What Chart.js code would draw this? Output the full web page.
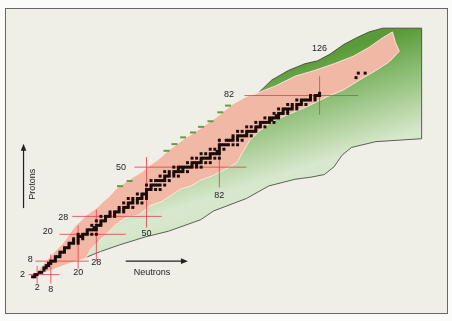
<!DOCTYPE html>
<html>
<head>
<meta charset="utf-8">
<script src="https://cdn.jsdelivr.net/npm/chart.js@4.4.0/dist/chart.umd.min.js"></script>
<style>
  body { margin: 0; background: #fbfbf9; }
  #wrap { position: relative; width: 452px; height: 321px; }
  #frame { position: absolute; left: 5px; top: 8px; width: 441px; height: 304px; border: 1px solid #666; background: #efeee7; }
  #chart { position: absolute; left: 0; top: 0; }
</style>
</head>
<body>
<div id="wrap">
  <div id="frame"></div>
  <canvas id="chart" width="452" height="321"></canvas>
</div>
<script>
// outline of the green region (predicted nuclei), neutron / proton numbers
var greenN = [22.5, 29.8, 38.3, 49.4, 59.7, 73.8, 79.4, 93.9, 103.7, 115.3, 122.1, 128.1, 132.4, 135.8, 140.0, 150.7, 170.8,
              170.8, 153.7, 147.7, 142.2, 136.6, 130.6, 125.1, 119.5, 112.3, 105.0, 99.4, 73.8, 48.2, 26.8, 22.5];
var greenZ = [9.3, 12.3, 15.3, 18.8, 21.4, 26.5, 30.4, 36.0, 41.6, 44.6, 45.5, 46.7, 50.2, 55.3, 58.8, 61.4, 62.7,
              112.1, 112.1, 110.4, 107.8, 104.8, 100.5, 97.5, 96.2, 93.2, 88.9, 83.4, 57.5, 36.0, 18.8, 9.3];

// outline of the known nuclei band (upper edge, then lower edge back)
var knownN = [0.3, 4.1, 6.7, 9.7, 12.7, 15.3, 18.2, 21.2, 23.8, 28.1, 31.1, 34.1, 36.6, 40.9, 43.9, 48.2, 51.2, 55.4, 59.7,
              66.5, 73.8, 81.1, 87.9, 93.9, 98.2, 106.7, 115.2, 123.8, 132.4, 140.9, 147.7, 153.7, 158.0, 159.3, 161.0,
              157.4, 155.9, 150.7, 143.5, 136.6, 129.4, 125.1, 119.5, 111.0, 105.0, 99.4, 95.2, 92.2, 89.6, 83.6, 79.4,
              73.8, 69.5, 65.3, 56.7, 51.2, 46.9, 40.9, 36.6, 34.1, 31.1, 28.1, 25.5, 23.4, 17.0, 11.0, 5.4, 1.2, 0.3];
var knownZ = [1.1, 5.9, 8.9, 12.3, 15.3, 18.8, 23.1, 26.1, 28.7, 31.7, 34.7, 37.3, 40.3, 43.3, 45.4, 48.0, 50.6, 53.6, 57.5,
              62.6, 67.4, 72.6, 78.2, 81.6, 82.9, 86.3, 90.6, 93.2, 96.2, 99.6, 103.5, 107.8, 110.4, 105.7, 101.8,
              97.9, 96.6, 93.2, 88.9, 84.6, 81.5, 79.3, 76.6, 73.0, 70.3, 66.0, 61.8, 56.6, 51.9, 48.5, 46.3,
              44.2, 41.6, 40.3, 34.7, 32.6, 28.7, 27.4, 24.4, 21.8, 18.8, 15.8, 13.2, 9.3, 7.2, 5.0, 2.9, 0.7, 1.1];

// stable nuclei: neutron numbers for Z = 1 .. 83
var stableN = [
  [0, 1], [1, 2], [3, 4], [5], [5, 6], [6, 7], [7, 8], [8, 9, 10], [10], [10, 11, 12],
  [12], [12, 13, 14], [14], [14, 15, 16], [16], [16, 17, 18, 20], [18, 20], [18, 20, 22], [20, 21, 22], [20, 22, 23, 24, 26, 28],
  [24], [24, 25, 26, 27, 28], [27, 28], [26, 28, 29, 30], [30], [28, 30, 31, 32], [32], [30, 32, 33, 34, 36], [34, 36], [34, 36, 37, 38, 40],
  [38, 40], [38, 40, 41, 42, 44], [42], [40, 42, 43, 44, 46, 48], [44, 46], [42, 44, 46, 47, 48, 50], [48, 50], [46, 48, 49, 50], [50], [50, 51, 52, 54, 56],
  [52], [50, 52, 53, 54, 55, 56, 58], [], [52, 54, 55, 56, 57, 58, 60], [58], [56, 58, 59, 60, 62, 64], [60, 62], [58, 60, 62, 63, 64, 65, 66, 68], [64, 66], [62, 64, 65, 66, 67, 68, 69, 70, 72, 74],
  [70, 72], [68, 70, 71, 72, 73, 74, 76, 78], [74], [70, 72, 74, 75, 76, 77, 78, 80, 82], [78], [74, 76, 78, 79, 80, 81, 82], [81, 82], [78, 80, 82, 84], [82], [82, 83, 84, 85, 86, 88, 90],
  [], [82, 85, 86, 87, 88, 90, 92], [88, 90], [88, 90, 91, 92, 93, 94, 96], [94], [90, 92, 94, 95, 96, 97, 98], [98], [94, 96, 98, 99, 100, 102], [100], [98, 100, 101, 102, 103, 104, 106],
  [104, 105], [102, 104, 105, 106, 107, 108], [107, 108], [106, 108, 109, 110, 112], [110, 112], [108, 110, 111, 112, 113, 114, 116], [114, 116], [112, 114, 116, 117, 118, 120], [118], [116, 118, 119, 120, 121, 122, 124],
  [122, 124], [122, 124, 125, 126], [126]
];
var heavyN = [142, 143, 146];
var heavyZ = [90, 92, 92];

// small green marks beyond the proton drip side
var dripN = [38.4, 42.6, 58.8, 62.3, 66.1, 70.4, 74.0, 78.1, 82.4, 85.8];
var dripZ = [41.5, 43.8, 57.3, 60.3, 63.3, 65.5, 68.0, 70.5, 74.5, 77.5];

// magic numbers and the span of their guide lines
var magicN = [2, 8, 20, 28, 50, 82, 126];
var nLineFrom = [-2, -2, 4.6, 8, 23, 41, 73.4];
var nLineTo = [5.9, 11, 24, 31, 54.5, 63, 90.6];
var magicZ = [2, 8, 20, 28, 50, 82];
var zLineFrom = [-1.8, 1.2, 11.8, 17.4, 44.7, 93];
var zLineTo = [11.8, 24.7, 40.9, 56.7, 93.9, 143];

// where the magic number labels sit
var nLabelZ = [-4.0, -4.5, 2.9, 7.2, 20.5, 37.3, 103.1];
var zLabelN = [-4.4, -1.0, 6.7, 13.5, 38.8, 86.2];
var zLabelZ = [2.0, 8.6, 21.3, 27.4, 49.9, 82.4];

function pts(xs, ys) {
  return xs.map(function(v, i) { return { x: v, y: ys[i] }; });
}

var stablePts = [];
stableN.forEach(function(ns, i) {
  ns.forEach(function(n) { stablePts.push({ x: n, y: i + 1 }); });
});
stablePts = stablePts.concat(pts(heavyN, heavyZ));

function greenFill(c) {
  var chart = c.chart;
  if (!chart.chartArea) return '#a9cf94';
  var sx = chart.scales.x, sy = chart.scales.y;
  var g = chart.ctx.createLinearGradient(sx.getPixelForValue(116.5), sy.getPixelForValue(96.2),
                                         sx.getPixelForValue(137), sy.getPixelForValue(30.8));
  g.addColorStop(0, '#5a9a38');
  g.addColorStop(0.19, '#7db463');
  g.addColorStop(0.47, '#b3d3a0');
  g.addColorStop(0.66, '#d8e8ce');
  g.addColorStop(1, '#cde2c1');
  return g;
}

var datasets = [
  { label: 'stable', data: stablePts, showLine: false, order: 0,
    pointStyle: 'rect', pointRadius: 2.1, pointBackgroundColor: '#1a0d0a', pointBorderWidth: 0 },
  { label: 'drip', data: pts(dripN, dripZ), showLine: false, order: 1,
    pointStyle: 'line', pointRadius: 3, pointBorderWidth: 2, pointBorderColor: '#5f9f3f' },
  { label: 'known', data: pts(knownN, knownZ), fill: 'shape', order: 3, pointRadius: 0,
    backgroundColor: '#f0b8a5', borderColor: 'rgba(255,236,226,0.9)', borderWidth: 1 },
  { label: 'predicted', data: pts(greenN, greenZ), fill: 'shape', order: 4, pointRadius: 0,
    backgroundColor: greenFill, borderColor: '#3a3a36', borderWidth: 0.8 }
];
magicN.forEach(function(n, i) {
  datasets.push({ label: 'N' + n, data: [{ x: n, y: nLineFrom[i] }, { x: n, y: nLineTo[i] }], order: 2,
    pointRadius: 0, borderColor: 'rgba(230,60,72,0.8)', borderWidth: 1 });
});
magicZ.forEach(function(z, i) {
  datasets.push({ label: 'Z' + z, data: [{ x: zLineFrom[i], y: z }, { x: zLineTo[i], y: z }], order: 2,
    pointRadius: 0, borderColor: 'rgba(230,60,72,0.8)', borderWidth: 1 });
});

function arrow(ctx, x0, y0, x1, y1) {
  var a = Math.atan2(y1 - y0, x1 - x0);
  ctx.beginPath();
  ctx.moveTo(x0, y0);
  ctx.lineTo(x1 - 5 * Math.cos(a), y1 - 5 * Math.sin(a));
  ctx.stroke();
  ctx.beginPath();
  ctx.moveTo(x1, y1);
  ctx.lineTo(x1 - 7 * Math.cos(a) + 2.8 * Math.sin(a), y1 - 7 * Math.sin(a) - 2.8 * Math.cos(a));
  ctx.lineTo(x1 - 7 * Math.cos(a) - 2.8 * Math.sin(a), y1 - 7 * Math.sin(a) + 2.8 * Math.cos(a));
  ctx.closePath();
  ctx.fill();
}

var labelsPlugin = {
  id: 'nuclideLabels',
  afterDatasetsDraw: function(chart) {
    var ctx = chart.ctx, sx = chart.scales.x, sy = chart.scales.y;
    ctx.save();
    ctx.font = '9px "Liberation Sans", Arial, sans-serif';
    ctx.fillStyle = '#222';
    ctx.strokeStyle = '#222';
    ctx.lineWidth = 1.2;
    ctx.textAlign = 'center';
    ctx.textBaseline = 'middle';
    magicN.forEach(function(n, i) {
      ctx.fillText(String(n), sx.getPixelForValue(n), sy.getPixelForValue(nLabelZ[i]));
    });
    magicZ.forEach(function(z, i) {
      ctx.fillText(String(z), sx.getPixelForValue(zLabelN[i]), sy.getPixelForValue(zLabelZ[i]));
    });
    // axis arrows
    arrow(ctx, sx.getPixelForValue(40.9), sy.getPixelForValue(8.0), sx.getPixelForValue(68.2), sy.getPixelForValue(8.0));
    arrow(ctx, sx.getPixelForValue(-3.97), sy.getPixelForValue(31.7), sx.getPixelForValue(-3.97), sy.getPixelForValue(60.5));
    ctx.fillText('Neutrons', sx.getPixelForValue(52.4), sy.getPixelForValue(2.9));
    ctx.translate(sx.getPixelForValue(-0.13), sy.getPixelForValue(42.4));
    ctx.rotate(-Math.PI / 2);
    ctx.fillText('Protons', 0, 0);
    ctx.restore();
  }
};

new Chart(document.getElementById('chart'), {
  type: 'line',
  data: { datasets: datasets },
  options: {
    responsive: false,
    animation: false,
    events: [],
    layout: { padding: 0 },
    elements: { line: { tension: 0 } },
    scales: {
      x: { type: 'linear', min: -11.67, max: 181.5, display: false },
      y: { type: 'linear', min: -16.06, max: 122.0, display: false }
    },
    plugins: { legend: { display: false }, tooltip: { enabled: false } }
  },
  plugins: [labelsPlugin]
});
</script>
</body>
</html>
